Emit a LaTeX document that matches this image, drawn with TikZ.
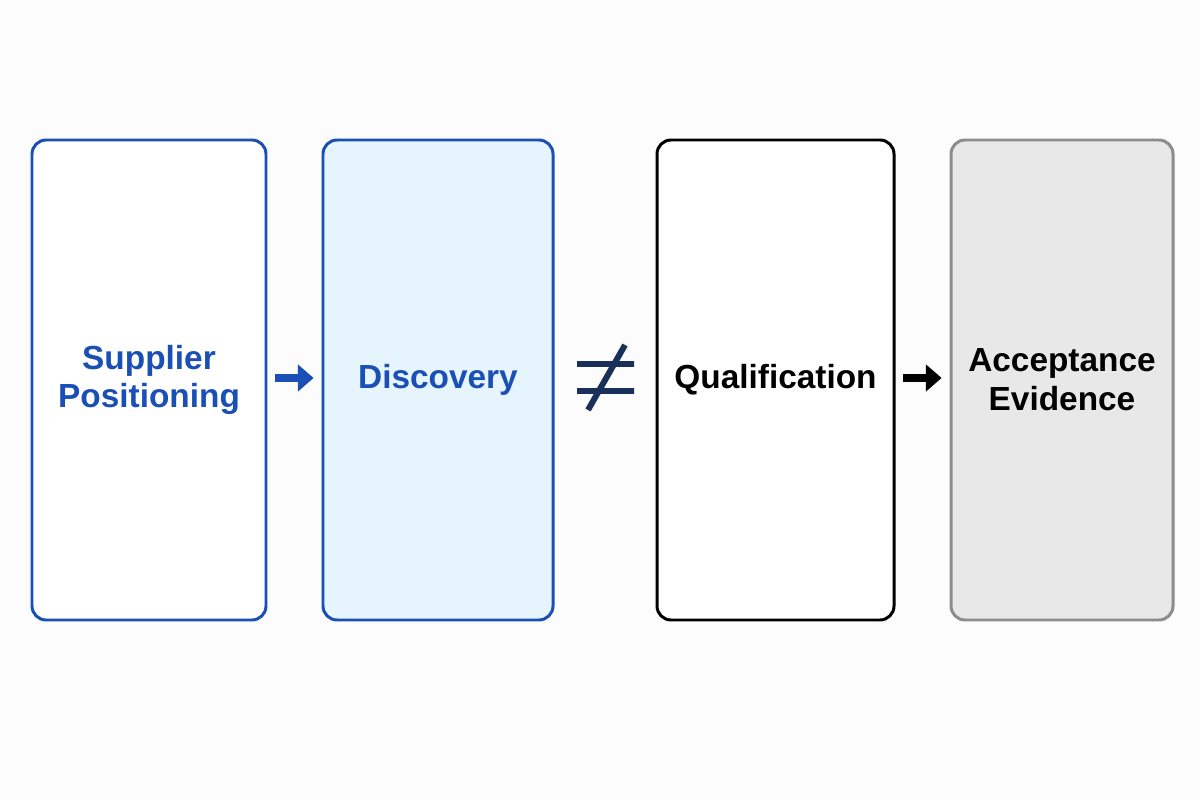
\documentclass[tikz,border=0pt]{standalone}
\usepackage{fontspec}
\setmainfont{Liberation Sans}
\usetikzlibrary{arrows.meta}
\definecolor{bl}{HTML}{1A4FB5}
\definecolor{lb}{HTML}{E6F5FD}
\definecolor{gb}{HTML}{8C8C8C}
\definecolor{gf}{HTML}{E8E8E8}
\definecolor{nv}{HTML}{1A2F5A}
\begin{document}
\begin{tikzpicture}[x=0.02cm,y=-0.02cm,
 box/.style={draw,line width=1.7pt,rounded corners=8pt,align=center,font=\fontsize{19}{22}\selectfont\bfseries},
 arr/.style={line width=5pt,-{Triangle[length=9pt,width=15pt]},shorten <=4.5pt,shorten >=4.5pt}]
\fill[white!98!gray] (0,0) rectangle (1200,800);
\useasboundingbox (0,0) rectangle (1200,800);
\node[box,draw=bl,fill=white,text=bl,minimum width=234*0.02cm,minimum height=480*0.02cm] (a) at (149,380) {Supplier\\Positioning};
\node[box,draw=bl,fill=lb,text=bl,minimum width=230*0.02cm,minimum height=480*0.02cm] (b) at (438,380) {Discovery};
\node[box,draw=black,fill=white,text=black,minimum width=237*0.02cm,minimum height=480*0.02cm] (c) at (775.5,380) {Qualification};
\node[box,draw=gb,fill=gf,text=black,minimum width=222*0.02cm,minimum height=480*0.02cm] (d) at (1062,380) {Acceptance\\Evidence};
\draw[arr,bl] (a.east|-0,378) -- (b.west|-0,378);
\draw[arr,black] (c.east|-0,378) -- (d.west|-0,378);
\coordinate (n1) at (577,364); \coordinate (n2) at (634,364);
\coordinate (n3) at (577,391); \coordinate (n4) at (634,391);
\coordinate (n5) at (588,410); \coordinate (n6) at (625,345);
\draw[nv,line width=3.4pt] (n1)--(n2) (n3)--(n4) (n5)--(n6);
\end{tikzpicture}
\end{document}
